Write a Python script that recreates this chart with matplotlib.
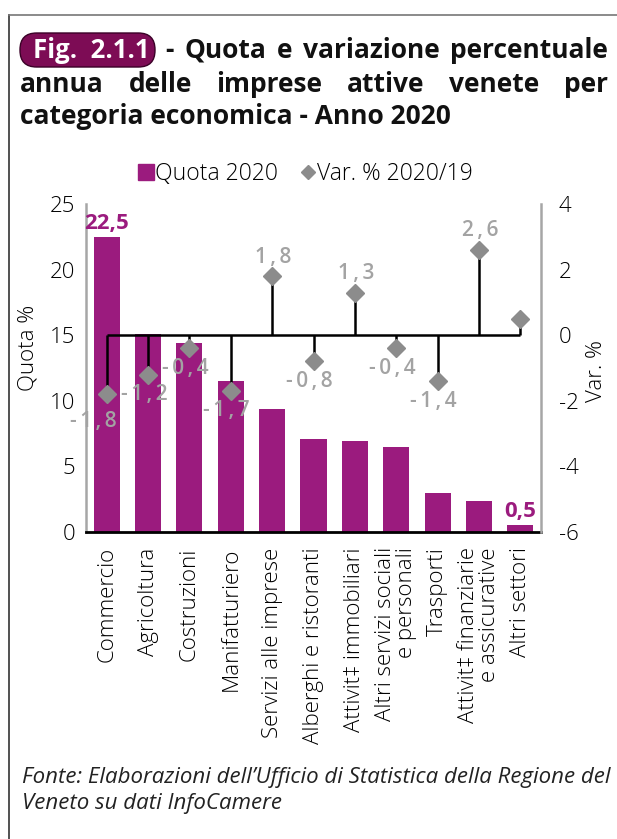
import matplotlib
matplotlib.use("Agg")
from matplotlib import pyplot as plt
from matplotlib.patches import FancyBboxPatch
from matplotlib.lines import Line2D

plt.rcParams['font.family'] = ['Open Sans', 'DejaVu Sans']
plt.rcParams['axes.unicode_minus'] = False

categories = ["Commercio", "Agricoltura", "Costruzioni", "Manifatturiero",
              "Servizi alle imprese", "Alberghi e ristoranti",
              "Attivit\u2021 immobiliari", "Altri servizi sociali\ne personali",
              "Trasporti", "Attivit\u2021 finanziarie\ne assicurative",
              "Altri settori"]
quota_2020 = [22.5, 15.1, 14.4, 11.5, 9.4, 7.1, 6.9, 6.5, 3.0, 2.4, 0.5]
var_2020_19 = [-1.8, -1.2, -0.4, -1.7, 1.8, -0.8, 1.3, -0.4, -1.4, 2.6, 0.5]
quota_labelled = [0, 10]
var_labelled = [0, 1, 2, 3, 4, 5, 6, 7, 8, 9]

BAR = "#9b1b7e"
DIAMOND = "#8c8c8c"
LABEL_GREY = "#a3a3a3"
W, H = 617, 839
FS = 16  # base size for axis text


def it_fmt(v, spaced=False):
    s = "{:.1f}".format(v).replace(".", ",")
    if spaced:
        s = "\u2006".join(s)
    return s


def px(x, y):
    """ pixel coords (origin top-left) -> figure fraction """
    return x / W, 1 - y / H


def justified_line(fig, renderer, words, x0, x1, y, **kw):
    texts = [fig.text(0, 0, w, **kw) for w in words]
    widths = [t.get_window_extent(renderer).width for t in texts]
    gap = (x1 - x0 - sum(widths)) / (len(words) - 1)
    x = x0
    for t, w in zip(texts, widths):
        t.set_position(px(x, y))
        x += w + gap


fig = plt.figure(figsize=(W / 100, H / 100), dpi=100)
renderer = fig.canvas.get_renderer()

# outer frame
fig.add_artist(Line2D([9 / W, 9 / W], [0, 1 - 15 / H], color="#333333", lw=1.2))
fig.add_artist(Line2D([9 / W, 1], [1 - 15 / H, 1 - 15 / H], color="#777777", lw=1.2))

# title with badge
bx, by = px(20, 67)
fig.add_artist(FancyBboxPatch((bx, by), 135 / W, 34 / H,
                              boxstyle="round,pad=0,rounding_size=0.027",
                              mutation_aspect=W / H,
                              fc="#7d0c55", ec="#3a0027", lw=1.0,
                              transform=fig.transFigure))
fig.text(*px(91, 50), "Fig.  2.1.1", color="white", fontsize=18.5, fontweight="bold",
         ha="center", va="center")
title_kw = dict(fontsize=19, fontweight="bold", color="#111111", va="center")
justified_line(fig, renderer, ["-", "Quota", "e", "variazione", "percentuale"],
               165, 608, 50, **title_kw)
justified_line(fig, renderer, ["annua", "delle", "imprese", "attive", "venete", "per"],
               20, 608, 85, **title_kw)
fig.text(*px(20, 117), "categoria economica - Anno 2020", **title_kw)

ax = fig.add_axes([86 / W, 1 - 532 / H, (541 - 86) / W, (532 - 204) / H])
x = range(len(categories))
ax.bar(x, quota_2020, width=0.63, color=BAR, zorder=2)
ax.set_xlim(-0.5, len(categories) - 0.5)
ax.set_ylim(0, 25)
ax.set_yticks(range(0, 26, 5))
ax.set_xticks(list(x))
ax.set_xticklabels(categories, rotation=90, ha="center", va="top",
                   multialignment="right", fontsize=FS, fontweight="light",
                   linespacing=1.0)
ax.tick_params(axis="x", length=0, pad=11)
ax.tick_params(axis="y", length=0, pad=8, labelsize=FS)
for lab in ax.get_yticklabels():
    lab.set_fontweight("light")
ax.set_ylabel("Quota %", fontsize=FS, fontweight="light")
ax.yaxis.set_label_coords(-0.105, 0.56)
for side in ["top", "right"]:
    ax.spines[side].set_visible(False)
ax.spines["left"].set_color("#a6a6a6")
ax.spines["left"].set_linewidth(1.8)
ax.spines["bottom"].set_color("black")
ax.spines["bottom"].set_linewidth(2)
ax.spines["bottom"].set_zorder(4)

for i in quota_labelled:
    ax.annotate(it_fmt(quota_2020[i]), (i, quota_2020[i]), xytext=(0, 3),
                textcoords="offset pixels", ha="center", va="bottom",
                color=BAR, fontsize=16, fontweight="bold")

# variation on secondary axis: zero line, stems and diamonds
ax2 = ax.twinx()
ax2.set_ylim(-6, 4)
ax2.set_yticks(range(-6, 5, 2))
ax2.tick_params(axis="y", length=0, pad=13, labelsize=FS)
for lab in ax2.get_yticklabels():
    lab.set_fontweight("light")
for side in ["top", "left", "bottom"]:
    ax2.spines[side].set_visible(False)
ax2.spines["right"].set_color("#a6a6a6")
ax2.spines["right"].set_linewidth(1.8)
ax2.set_ylabel("Var. %", fontsize=FS, fontweight="light", rotation=90)
ax2.yaxis.set_label_coords(1.10, 0.49)

ax2.hlines(0, 0, len(categories) - 1, color="black", lw=1.8, zorder=3)
ax2.vlines(list(x), 0, var_2020_19, color="black", lw=1.8, zorder=3)
ax2.plot(list(x), var_2020_19, ls="none", marker="D", ms=9, color=DIAMOND,
         mec=DIAMOND, zorder=4)
for i in var_labelled:
    v = var_2020_19[i]
    dx, dy = (-4, -20) if v < 0 else (1, 19)
    if i == 0:
        dx, dy = -13, -27
    ax2.annotate(it_fmt(v, spaced=True), (i, v), xytext=(dx, dy),
                 textcoords="offset pixels", ha="center", va="center",
                 color=LABEL_GREY, fontsize=15, fontweight="semibold", zorder=5)

handles = [Line2D([], [], ls="none", marker="s", ms=11, color=BAR),
           Line2D([], [], ls="none", marker="D", ms=7.5, color=DIAMOND)]
fig.legend(handles, ["Quota 2020", "Var. % 2020/19"], loc="center",
           bbox_to_anchor=px(306, 174), ncol=2, frameon=False,
           prop={"size": 16.5, "weight": "light"},
           handlelength=0.6, handletextpad=0.1, columnspacing=1.0)

foot_kw = dict(fontsize=16, style="italic", color="#222222", va="center")
fig.text(*px(22, 778), "Fonte: Elaborazioni dell\u2019Ufficio di Statistica della Regione del",
         **foot_kw)
fig.text(*px(22, 803), "Veneto su dati InfoCamere", **foot_kw)

fig.savefig("out.png", dpi=100)
